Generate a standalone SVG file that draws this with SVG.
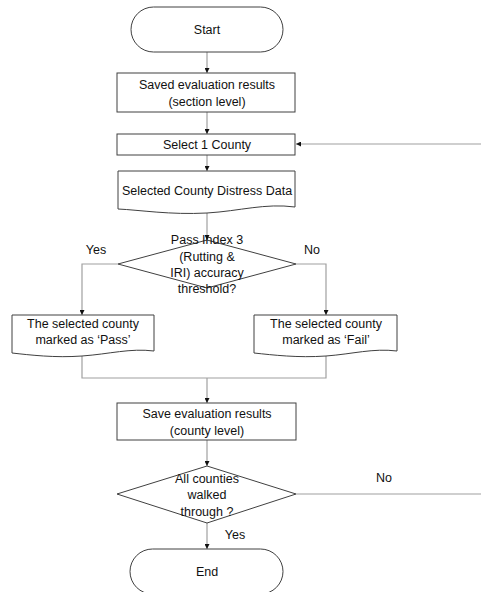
<svg xmlns="http://www.w3.org/2000/svg" width="481" height="592" viewBox="0 0 481 592">
<style>
.s{fill:#fff;stroke:#404040;stroke-width:1}
.c{fill:none;stroke:#a0a0a0;stroke-width:1.2}
.t{font-family:"Liberation Sans",Arial,sans-serif;font-size:12.5px;fill:#111;text-anchor:middle;dominant-baseline:central}
</style>
<defs>
<marker id="ah" viewBox="0 0 6 6" refX="6" refY="3" markerWidth="5" markerHeight="5" orient="auto" markerUnits="userSpaceOnUse">
<path d="M0,0 L6,3 L0,6 Z" fill="#111"/>
</marker>
</defs>
<g id="connectors">
<line class="c" x1="207" y1="52" x2="207" y2="73" marker-end="url(#ah)"/>
<line class="c" x1="207" y1="112" x2="207" y2="134" marker-end="url(#ah)"/>
<line class="c" x1="481" y1="144" x2="296" y2="144" marker-end="url(#ah)"/>
<line class="c" x1="207" y1="155" x2="207" y2="171" marker-end="url(#ah)"/>
<line class="c" x1="207" y1="213" x2="207" y2="240" marker-end="url(#ah)"/>
<polyline class="c" points="118,264 82,264 82,315" marker-end="url(#ah)"/>
<polyline class="c" points="296,264 326,264 326,315" marker-end="url(#ah)"/>
<polyline class="c" points="82,356 82,378 326,378 326,355"/>
<line class="c" x1="207" y1="378" x2="207" y2="403" marker-end="url(#ah)"/>
<line class="c" x1="207" y1="440" x2="207" y2="466" marker-end="url(#ah)"/>
<line class="c" x1="296" y1="494" x2="481" y2="494"/>
<line class="c" x1="207" y1="523" x2="207" y2="549" marker-end="url(#ah)"/>
<text class="t" x="96" y="250">Yes</text>
<text class="t" x="312" y="250">No</text>
<text class="t" x="384" y="478">No</text>
<text class="t" x="235" y="535">Yes</text>
</g>
<g id="start">
<rect class="s" x="131" y="7" width="152" height="45" rx="22.5"/>
<text class="t" x="207" y="30">Start</text>
</g>
<g id="saved-section">
<rect class="s" x="117" y="73" width="178" height="39"/>
<text class="t" x="207" y="85">Saved evaluation results</text>
<text class="t" x="207" y="102">(section level)</text>
</g>
<g id="select-county">
<rect class="s" x="117" y="134" width="178" height="21"/>
<text class="t" x="207" y="145">Select 1 County</text>
</g>
<g id="distress-data">
<path class="s" d="M118,171 H295 V207 C265,203 240,211 207,213 C170,215 140,210 118,209 Z"/>
<text class="t" x="207" y="191">Selected County Distress Data</text>
</g>
<g id="pass-index">
<path class="s" d="M207,240 L296,264 L207,288 L118,264 Z"/>
<text class="t" x="207" y="240">Pass Index 3</text>
<text class="t" x="207" y="257">(Rutting &amp;</text>
<text class="t" x="207" y="273">IRI) accuracy</text>
<text class="t" x="207" y="289">threshold?</text>
</g>
<g id="marked-pass">
<path class="s" d="M12,315 H154 V351 C130,348 110,354 82,356 C55,358 30,355 12,353 Z"/>
<text class="t" x="83" y="324">The selected county</text>
<text class="t" x="83" y="340">marked as ‘Pass’</text>
</g>
<g id="marked-fail">
<path class="s" d="M254,315 H397 V351 C373,348 353,354 326,356 C298,358 273,355 254,353 Z"/>
<text class="t" x="326" y="324">The selected county</text>
<text class="t" x="326" y="340">marked as ‘Fail’</text>
</g>
<g id="save-county">
<rect class="s" x="117" y="403" width="179" height="37"/>
<text class="t" x="207" y="414">Save evaluation results</text>
<text class="t" x="207" y="431">(county level)</text>
</g>
<g id="all-counties">
<path class="s" d="M207,466 L296,494 L207,523 L117,494 Z"/>
<text class="t" x="207" y="479">All counties</text>
<text class="t" x="207" y="495">walked</text>
<text class="t" x="207" y="512">through ?</text>
</g>
<g id="end">
<rect class="s" x="130" y="549" width="153" height="45" rx="22.5"/>
<text class="t" x="207" y="572">End</text>
</g>
</svg>
